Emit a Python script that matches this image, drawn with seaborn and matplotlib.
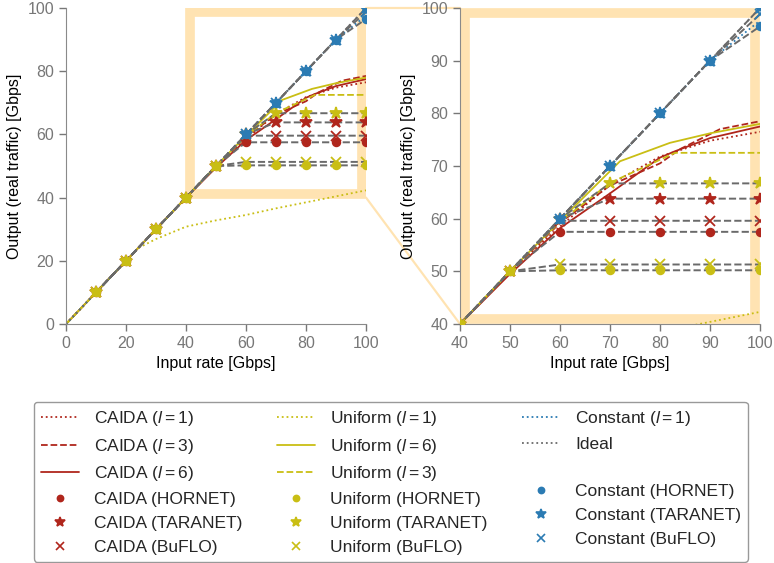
import matplotlib
matplotlib.use("Agg")
import matplotlib.pyplot as plt
import seaborn as sns
from matplotlib.patches import Rectangle, ConnectionPatch
from matplotlib.lines import Line2D

sns.set_style("ticks")
plt.rcParams.update({
    "font.family": ["Liberation Sans", "DejaVu Sans"],
    "font.size": 11.5,
    "mathtext.fontset": "custom",
    "mathtext.rm": "Liberation Sans",
    "mathtext.it": "Liberation Sans:italic",
    "axes.edgecolor": "#8a8a8a",
    "xtick.color": "#777777",
    "ytick.color": "#777777",
    "axes.labelcolor": "black",
})

RED = "#b0261c"
YEL = "#c9be14"
BLUE = "#2b7bb3"
GRAY = "#6a6a6a"
ZOOM = "orange"

# throughput curves (input rate -> output)
caida_l1_x = [0, 10, 20, 30, 40, 50, 60, 70, 80, 90, 100]
caida_l1_y = [0, 10, 20, 30, 40, 50, 58.5, 66.5, 71.8, 74.8, 76.5]
caida_l3_x = [0, 10, 20, 30, 40, 50, 60, 70, 80, 84, 92, 100]
caida_l3_y = [0, 10, 20, 30, 40, 49.8, 59.2, 66.3, 70.5, 73.2, 77.0, 78.5]
caida_l6_x = [0, 10, 20, 30, 40, 50, 60, 70, 80, 83, 90, 100]
caida_l6_y = [0, 10, 20, 30, 40, 49.5, 58.2, 64.8, 71.6, 72.8, 75.3, 77.5]

uni_l1_x = [0, 10, 20, 24, 30, 40, 50, 60, 70, 80, 90, 100]
uni_l1_y = [0, 10, 20, 24, 26.9, 30.8, 32.8, 34.5, 36.6, 38.5, 40.4, 42.3]
uni_l6_x = [0, 10, 20, 30, 40, 50, 60, 72, 82, 90, 100]
uni_l6_y = [0, 10, 20, 30, 40, 50, 59.6, 70.9, 74.4, 76.2, 78.0]
uni_l3_x = [0, 10, 20, 30, 40, 50, 60, 70, 83, 100]
uni_l3_y = [0, 10, 20, 30, 40, 50, 59.4, 66.8, 72.5, 72.5]

const_l1_x = [0, 10, 20, 30, 40, 50, 60, 70, 80, 90, 100]
const_l1_y = [0, 10, 20, 30, 40, 50, 60, 70, 80, 90, 97.6]

ideal_x = [0, 100]
ideal_y = [0, 100]

# per-rate measurements of the other systems
rates = [10, 20, 30, 40, 50, 60, 70, 80, 90, 100]
caida_hornet = [10, 20, 30, 40, 50, 57.5, 57.5, 57.5, 57.5, 57.5]
caida_taranet = [10, 20, 30, 40, 50, 60, 63.8, 63.8, 63.8, 63.8]
caida_buflo = [10, 20, 30, 40, 50, 59.6, 59.6, 59.6, 59.6, 59.6]
uni_hornet = [10, 20, 30, 40, 50, 50.2, 50.2, 50.2, 50.2, 50.2]
uni_taranet = [10, 20, 30, 40, 50, 60, 66.7, 66.7, 66.7, 66.7]
uni_buflo = [10, 20, 30, 40, 50, 51.3, 51.3, 51.3, 51.3, 51.3]
const_rates = [60, 70, 80, 90, 100]
const_hornet = [60, 70, 80, 90, 96.5]
const_taranet = [60, 70, 80, 90, 100]
const_buflo = [60, 70, 80, 90, 98.8]

fig = plt.figure(figsize=(7.74, 5.63), dpi=100)
ax1 = fig.add_axes([0.0853, 0.4245, 0.3876, 0.5613])
ax2 = fig.add_axes([0.5943, 0.4245, 0.3876, 0.5613])

curves = [
    ("CAIDA ($l = 1$)", caida_l1_x, caida_l1_y, RED, ":"),
    ("CAIDA ($l = 3$)", caida_l3_x, caida_l3_y, RED, "--"),
    ("CAIDA ($l = 6$)", caida_l6_x, caida_l6_y, RED, "-"),
    ("Uniform ($l = 1$)", uni_l1_x, uni_l1_y, YEL, ":"),
    ("Uniform ($l = 6$)", uni_l6_x, uni_l6_y, YEL, "-"),
    ("Uniform ($l = 3$)", uni_l3_x, uni_l3_y, YEL, "--"),
    ("Constant ($l = 1$)", const_l1_x, const_l1_y, BLUE, ":"),
    ("Ideal", ideal_x, ideal_y, GRAY, ":"),
]

points = [
    ("CAIDA (HORNET)", rates, caida_hornet, RED, "o"),
    ("CAIDA (TARANET)", rates, caida_taranet, RED, "*"),
    ("CAIDA (BuFLO)", rates, caida_buflo, RED, "x"),
    ("Uniform (HORNET)", rates, uni_hornet, YEL, "o"),
    ("Uniform (TARANET)", rates, uni_taranet, YEL, "*"),
    ("Uniform (BuFLO)", rates, uni_buflo, YEL, "x"),
    ("Constant (HORNET)", const_rates, const_hornet, BLUE, "o"),
    ("Constant (TARANET)", const_rates, const_taranet, BLUE, "*"),
    ("Constant (BuFLO)", const_rates, const_buflo, BLUE, "x"),
]
msize = {"o": 5.5, "*": 9, "x": 7.5}

handles = {}
for ax in (ax1, ax2):
    for label, xs, ys, col, ls in curves:
        sns.lineplot(x=xs, y=ys, ax=ax, color=col, linestyle=ls, linewidth=1.3,
                     sort=False, estimator=None, zorder=2)
        handles[label] = Line2D([], [], color=col, linestyle=ls, linewidth=1.3)
    for label, xs, ys, col, mk in points:
        sns.lineplot(x=xs, y=ys, ax=ax, color=GRAY, linestyle="--", linewidth=1.4,
                     sort=False, estimator=None, zorder=3)
        ax.plot(xs, ys, linestyle="none", marker=mk, markersize=msize[mk],
                color=col, markeredgecolor=col, markeredgewidth=1.3, zorder=4)
        handles[label] = Line2D([], [], linestyle="none", marker=mk,
                                markersize=msize[mk] * 0.8, color=col,
                                markeredgecolor=col, markeredgewidth=1.2)

for ax in (ax1, ax2):
    ax.set_xlabel("Input rate [Gbps]", fontsize=11.5)
    ax.set_ylabel("Output (real traffic) [Gbps]", fontsize=11.5)
    ax.tick_params(direction="out", length=5, width=1, labelsize=11.5)
    sns.despine(ax=ax)

ax1.set_xlim(0, 100)
ax1.set_ylim(0, 100)
ax1.set_xticks(range(0, 101, 20))
ax1.set_yticks(range(0, 101, 20))
ax2.set_xlim(40, 100)
ax2.set_ylim(40, 100)
ax2.set_xticks(range(40, 101, 10))
ax2.set_yticks(range(40, 101, 10))

# zoom box on the left panel and frame on the right one
ax1.add_patch(Rectangle((41.3, 41.2), 57.4, 57.5, fill=False, edgecolor=ZOOM,
                        alpha=0.3, linewidth=7, zorder=1))
ax2.add_patch(Rectangle((0.0165, 0.0155), 0.967, 0.969, transform=ax2.transAxes,
                        fill=False, edgecolor=ZOOM, alpha=0.3, linewidth=7,
                        zorder=1))
for ya, yb in [(100, 100), (40, 40)]:
    con = ConnectionPatch(xyA=(100, ya), coordsA="data", axesA=ax1,
                          xyB=(40, yb), coordsB="data", axesB=ax2,
                          color=ZOOM, alpha=0.3, linewidth=1.6, zorder=0)
    fig.add_artist(con)

order = [
    "CAIDA ($l = 1$)", "CAIDA ($l = 3$)", "CAIDA ($l = 6$)",
    "CAIDA (HORNET)", "CAIDA (TARANET)", "CAIDA (BuFLO)",
    "Uniform ($l = 1$)", "Uniform ($l = 6$)", "Uniform ($l = 3$)",
    "Uniform (HORNET)", "Uniform (TARANET)", "Uniform (BuFLO)",
    "Constant ($l = 1$)", "Ideal", " ",
    "Constant (HORNET)", "Constant (TARANET)", "Constant (BuFLO)",
]
handles[" "] = Line2D([], [], linestyle="none")
leg = fig.legend([handles[k] for k in order], order, ncol=3,
                 loc="upper center", bbox_to_anchor=(0.505, 0.286),
                 borderaxespad=0.0,
                 fontsize=12.5, handlelength=2.2, handletextpad=0.85,
                 columnspacing=2.0, labelspacing=0.5, frameon=True,
                 fancybox=True, borderpad=0.4)
leg.get_frame().set_edgecolor("#808080")
leg.get_frame().set_linewidth(1.0)

fig.savefig("out.png", dpi=100)
